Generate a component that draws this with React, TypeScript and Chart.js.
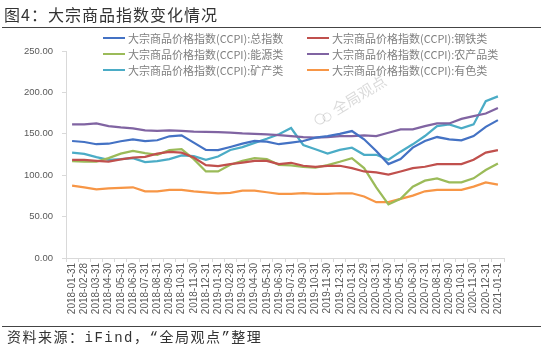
import React, { useEffect, useRef } from "react";
import { Chart, registerables } from "chart.js";

Chart.register(...registerables);

const dates = [
  "2018-01-31","2018-02-28","2018-03-31","2018-04-30","2018-05-31","2018-06-30",
  "2018-07-31","2018-08-31","2018-09-30","2018-10-31","2018-11-30","2018-12-31",
  "2019-01-31","2019-02-28","2019-03-31","2019-04-30","2019-05-31","2019-06-30",
  "2019-07-31","2019-09-30","2019-10-31","2019-11-30","2019-12-31","2020-01-31",
  "2020-02-29","2020-03-31","2020-04-30","2020-05-31","2020-06-30","2020-07-31",
  "2020-08-31","2020-09-30","2020-10-31","2020-11-30","2020-12-31","2021-01-31",
];

const totalIndex = [141.3,140.1,137.4,138,141,143.4,141.3,142.2,147,148.1,139.3,130.5,130.2,134.1,138.1,141.3,140.5,137.4,139.3,141.3,145.3,147.3,150,153.3,143.4,129.3,113.4,119.4,133.3,141.3,146.1,143.4,142.2,147.3,158.4,166.5];
const steelIndex = [118.6,118.6,117.4,116.5,119,121.3,122.2,126.1,128.1,127.3,121.3,112.2,111,113.4,115.3,117.4,117.4,113.4,115,111.4,110.2,111.4,111.4,108.6,104.5,103.4,100.6,104.5,108.6,110.2,113.4,113.4,113.4,118.6,127.3,130.2];
const energyIndex = [117,116.5,116.5,120.6,126,129.3,126.6,124.6,130.2,131.4,119.4,104.5,104.5,112.6,117.4,120.6,119.4,112.6,112,110.2,109.3,112.2,116.2,120.6,108.6,85.4,64.7,71.5,86.2,93.4,96.2,91.4,91.4,96.2,106.2,114.1];
const agriIndex = [161.3,161.3,162.5,159.3,157.7,156.5,154.1,153.6,154.1,153.5,152.5,152.3,152.1,151.5,150.5,150,149.3,148.5,147.3,146.1,145.3,146.1,147.3,147.3,148.1,147.3,151.3,155.3,155.3,159.3,162.5,162.5,168,171.3,174.5,181.2];
const mineralIndex = [127.3,125.7,121.8,118.6,119.4,120.6,115.8,117,119.4,124,123,118.5,122.5,130.5,134,139,144,149.5,157,136.5,131.4,126.1,130.5,133.2,124.6,124.6,118.6,128.4,137.3,147.3,159.3,161.3,156.5,161.3,189.3,195.2];
const nonferrousIndex = [87.4,85.4,83,84.2,84.7,85.4,80.6,80.6,82.3,82.3,80.6,79.4,78.2,78.7,81.4,81.4,79.4,77.5,77.5,78.2,77.5,77.5,78.2,78.2,74.3,67.4,67.4,71.5,75.4,80.6,82.3,82.3,82.3,86.2,91.4,88.6];

const seriesNames = [
  "大宗商品价格指数(CCPI):总指数",
  "大宗商品价格指数(CCPI):钢铁类",
  "大宗商品价格指数(CCPI):能源类",
  "大宗商品价格指数(CCPI):农产品类",
  "大宗商品价格指数(CCPI):矿产类",
  "大宗商品价格指数(CCPI):有色类",
];
const seriesData = [totalIndex, steelIndex, energyIndex, agriIndex, mineralIndex, nonferrousIndex];
const seriesColors = ["#4472C4", "#C0504D", "#9BBB59", "#8064A2", "#4BACC6", "#F79646"];

const yTicks = [0, 50, 100, 150, 200, 250];

const titleText = "图4：大宗商品指数变化情况";
const sourceText = "资料来源：iFind，“全局观点”整理";
const watermarkText = "全局观点";

const CJK = '"Noto Sans CJK SC", "Liberation Sans", sans-serif';

const watermarkPlugin = {
  id: "watermark",
  beforeDatasetsDraw(chart: any) {
    const ctx = chart.ctx;
    ctx.save();
    ctx.translate(320, 119);
    ctx.rotate(-0.55);
    ctx.strokeStyle = "rgba(0,0,0,0.15)";
    ctx.fillStyle = "rgba(0,0,0,0.15)";
    ctx.lineWidth = 1;
    ctx.beginPath();
    ctx.arc(0, 0, 5, 0, Math.PI * 2);
    ctx.stroke();
    ctx.beginPath();
    ctx.arc(7, 2, 4, 0, Math.PI * 2);
    ctx.stroke();
    ctx.font = `15px ${CJK}`;
    ctx.textBaseline = "middle";
    ctx.fillText(watermarkText, 16, 0);
    ctx.restore();
  },
};

export default function App() {
  const canvasRef = useRef<HTMLCanvasElement | null>(null);

  useEffect(() => {
    document.body.style.margin = "0";
    const canvas = canvasRef.current;
    if (!canvas) return;
    const chart = new Chart(canvas, {
      type: "line",
      data: {
        labels: dates,
        datasets: seriesNames.map((name, i) => ({
          label: name,
          data: seriesData[i],
          borderColor: seriesColors[i],
          backgroundColor: seriesColors[i],
          borderWidth: 2.25,
          pointRadius: 0,
          tension: 0,
          fill: false,
        })),
      },
      options: {
        responsive: false,
        animation: false,
        layout: { padding: { left: 0, right: 39, top: 51, bottom: 0 } },
        plugins: { legend: { display: false }, tooltip: { enabled: false } },
        scales: {
          x: {
            type: "category",
            offset: true,
            grid: {
              display: true,
              drawOnChartArea: false,
              drawTicks: true,
              tickLength: 4,
              color: "#d9d9d9",
              offset: true,
            },
            border: { display: true, color: "#d9d9d9" },
            ticks: {
              autoSkip: false,
              minRotation: 90,
              maxRotation: 90,
              color: "#595959",
              padding: 1,
              font: { size: 10, family: '"Liberation Sans", sans-serif' },
            },
            afterFit(scale: any) {
              scale.height = 99;
            },
          },
          y: {
            min: 0,
            max: 250,
            afterBuildTicks(scale: any) {
              scale.ticks = yTicks.map((v) => ({ value: v }));
            },
            grid: {
              display: true,
              drawOnChartArea: false,
              drawTicks: true,
              tickLength: 4,
              color: "#d9d9d9",
            },
            border: { display: true, color: "#d9d9d9" },
            ticks: {
              color: "#595959",
              padding: 9,
              font: { size: 9.5, family: '"Liberation Sans", sans-serif' },
              callback: (v: any) => Number(v).toFixed(2),
            },
            afterFit(scale: any) {
              scale.width = 66;
            },
          },
        },
      },
      plugins: [watermarkPlugin],
    });
    return () => chart.destroy();
  }, []);

  const legendRows = [
    [0, 1],
    [2, 3],
    [4, 5],
  ];
  const rowY = [38, 54, 70];
  const colX = [103, 307];

  return (
    <div style={{ position: "absolute", left: 0, top: 0, width: 543, height: 357, background: "#fff", overflow: "hidden" }}>
      <canvas ref={canvasRef} width={543} height={357} style={{ position: "absolute", left: 0, top: 0, width: 543, height: 357 }} />
      <div style={{ position: "absolute", left: 4, top: 5, fontFamily: CJK, fontSize: 16, letterSpacing: 1, color: "#333", lineHeight: "18px", whiteSpace: "nowrap" }}>
        {titleText}
      </div>
      <div style={{ position: "absolute", left: 2, top: 27, width: 539, height: 1, background: "#444" }} />
      {legendRows.map((row, r) =>
        row.map((si, c) => (
          <div key={si} style={{ position: "absolute", left: colX[c], top: rowY[r] - 8, height: 16, display: "flex", alignItems: "center", whiteSpace: "nowrap" }}>
            <div style={{ width: 22, height: 2.5, background: seriesColors[si], marginRight: 3 }} />
            <span style={{ fontFamily: CJK, fontSize: 11, color: "#7f7f7f", lineHeight: "16px" }}>{seriesNames[si]}</span>
          </div>
        ))
      )}
      <div style={{ position: "absolute", left: 2, top: 326, width: 539, height: 1, background: "#444" }} />
      <div style={{ position: "absolute", left: 7, top: 330, fontFamily: '"Liberation Mono", "Noto Sans CJK SC", monospace', fontSize: 14, letterSpacing: 1.5, color: "#333", lineHeight: "17px", whiteSpace: "nowrap" }}>
        {sourceText}
      </div>
    </div>
  );
}
